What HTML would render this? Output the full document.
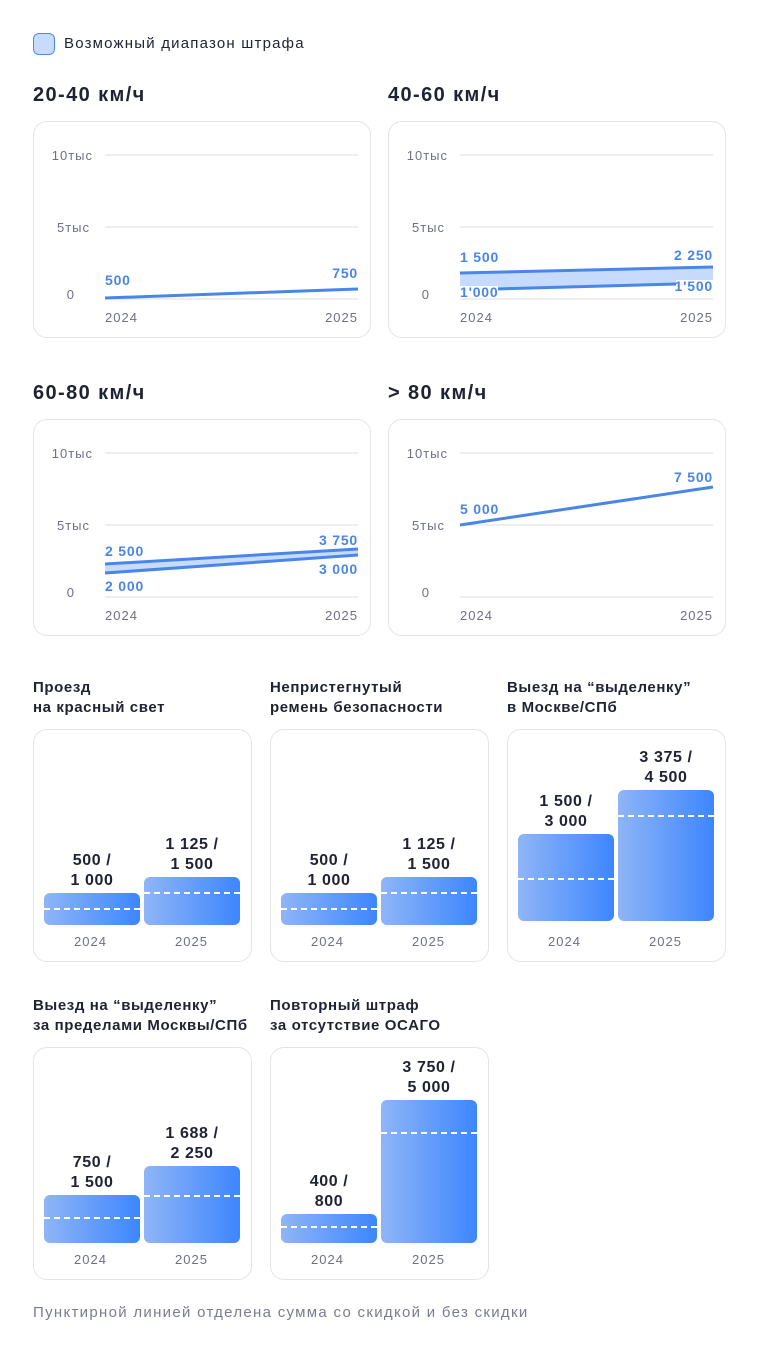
<!DOCTYPE html>
<html><head><meta charset="utf-8"><style>
*{margin:0;padding:0;box-sizing:border-box}
body{width:758px;height:1355px;background:#fff;font-family:"Liberation Sans",sans-serif;color:#1f2233;position:relative;overflow:hidden}
.a{position:absolute}
.card{position:absolute;border:1px solid #e3e4ea;border-radius:14px;background:#fff}
.h{position:absolute;font-size:20px;font-weight:bold;color:#1f2233;letter-spacing:1.4px}
.t{position:absolute;font-size:15px;font-weight:bold;line-height:20px;color:#1f2233;letter-spacing:0.6px}
.ax{position:absolute;font-size:13px;color:#6e7084;letter-spacing:1px}
.bar{position:absolute;border-radius:6px;background:linear-gradient(90deg,#8fb5f6,#3d86ff)}
.dash{position:absolute;left:0;right:0;height:0;border-top:2px dashed #fff}
.bl{position:absolute;font-size:16px;font-weight:bold;line-height:20px;text-align:center;width:96px;color:#1f2233;letter-spacing:0.6px}
</style></head><body>
<div class="a" style="left:33px;top:33px;width:22px;height:22px;border-radius:6px;background:#c7dbff;border:1px solid #4d8af0"></div>
<div class="a" style="left:64px;top:35px;font-size:15px;letter-spacing:1.2px">Возможный диапазон штрафа</div>

<div class="h" style="left:33px;top:84px">20-40 км/ч</div>
<div class="h" style="left:388px;top:84px">40-60 км/ч</div>
<div class="h" style="left:33px;top:382px">60-80 км/ч</div>
<div class="h" style="left:388px;top:382px">&gt; 80 км/ч</div>

<div class="card" style="left:33px;top:121px;width:338px;height:217px"></div>
<div class="card" style="left:388px;top:121px;width:338px;height:217px"></div>
<div class="card" style="left:33px;top:419px;width:338px;height:217px"></div>
<div class="card" style="left:388px;top:419px;width:338px;height:217px"></div>

<svg class="a" style="left:0;top:0" width="758" height="660" font-family="Liberation Sans, sans-serif">
<g id="g1" letter-spacing="1">
<line x1="105" y1="155" x2="358" y2="155" stroke="#dcdde3"/>
<line x1="105" y1="227" x2="358" y2="227" stroke="#dcdde3"/>
<line x1="105" y1="299" x2="358" y2="299" stroke="#dcdde3"/>
<text x="93" y="160" text-anchor="end" font-size="13" fill="#6e7084">10тыс</text>
<text x="90" y="232" text-anchor="end" font-size="13" fill="#6e7084">5тыс</text>
<text x="75" y="299" text-anchor="end" font-size="13" fill="#6e7084">0</text>
<text x="105" y="322" font-size="13" fill="#6e7084">2024</text>
<text x="358" y="322" text-anchor="end" font-size="13" fill="#6e7084">2025</text>
</g>
<use href="#g1" x="355" y="0"/>
<use href="#g1" x="0" y="298"/>
<use href="#g1" x="355" y="298"/>
<g font-size="14" font-weight="bold" fill="#4a86e8" letter-spacing="0.8">
<line x1="105" y1="298" x2="358" y2="289" stroke="#4a86e8" stroke-width="3"/>
<text x="105" y="285">500</text><text x="358" y="278" text-anchor="end">750</text>

<polygon points="460,273 713,267 713,283 460,290" fill="#c7dbff"/>
<line x1="460" y1="273" x2="713" y2="267" stroke="#4a86e8" stroke-width="3"/>
<line x1="460" y1="290" x2="713" y2="283" stroke="#4a86e8" stroke-width="3"/>
<text x="460" y="262">1 500</text><text x="713" y="260" text-anchor="end">2 250</text>
<rect x="460" y="286" width="38" height="12" fill="#fff"/>
<rect x="676" y="280" width="38" height="12" fill="#fff"/>
<text x="460" y="297">1'000</text><text x="713" y="291" text-anchor="end">1'500</text>

<polygon points="105,563 358,549 358,554 105,573" fill="#c7dbff"/>
<line x1="105" y1="564" x2="358" y2="549" stroke="#4a86e8" stroke-width="3"/>
<line x1="105" y1="573" x2="358" y2="555" stroke="#4a86e8" stroke-width="3"/>
<text x="105" y="556">2 500</text><text x="358" y="545" text-anchor="end">3 750</text>
<text x="105" y="591">2 000</text><text x="358" y="574" text-anchor="end">3 000</text>

<line x1="460" y1="525" x2="713" y2="487" stroke="#4a86e8" stroke-width="3"/>
<text x="460" y="514">5 000</text><text x="713" y="482" text-anchor="end">7 500</text>
</g>
</svg>

<div class="t" style="left:33px;top:678px">Проезд<br>на красный свет</div>
<div class="t" style="left:270px;top:678px">Непристегнутый<br>ремень безопасности</div>
<div class="t" style="left:507px;top:678px">Выезд на “выделенку”<br>в Москве/СПб</div>
<div class="t" style="left:33px;top:996px">Выезд на “выделенку”<br>за пределами Москвы/СПб</div>
<div class="t" style="left:270px;top:996px">Повторный штраф<br>за отсутствие ОСАГО</div>

<div class="card" style="left:33px;top:729px;width:219px;height:233px"></div>
<div class="card" style="left:270px;top:729px;width:219px;height:233px"></div>
<div class="card" style="left:507px;top:729px;width:219px;height:233px"></div>
<div class="card" style="left:33px;top:1047px;width:219px;height:233px"></div>
<div class="card" style="left:270px;top:1047px;width:219px;height:233px"></div>

<div class="bar" style="left:44px;top:893px;width:96px;height:32px"><div class="dash" style="top:15px"></div></div>
<div class="bl" style="left:44px;top:851px">500 /<br>1 000</div>
<div class="bar" style="left:144px;top:877px;width:96px;height:48px"><div class="dash" style="top:15px"></div></div>
<div class="bl" style="left:144px;top:835px">1 125 /<br>1 500</div>
<div class="ax" style="left:74px;top:934px">2024</div><div class="ax" style="left:175px;top:934px">2025</div>

<div class="bar" style="left:281px;top:893px;width:96px;height:32px"><div class="dash" style="top:15px"></div></div>
<div class="bl" style="left:281px;top:851px">500 /<br>1 000</div>
<div class="bar" style="left:381px;top:877px;width:96px;height:48px"><div class="dash" style="top:15px"></div></div>
<div class="bl" style="left:381px;top:835px">1 125 /<br>1 500</div>
<div class="ax" style="left:311px;top:934px">2024</div><div class="ax" style="left:412px;top:934px">2025</div>

<div class="bar" style="left:518px;top:834px;width:96px;height:87px"><div class="dash" style="top:44px"></div></div>
<div class="bl" style="left:518px;top:792px">1 500 /<br>3 000</div>
<div class="bar" style="left:618px;top:790px;width:96px;height:131px"><div class="dash" style="top:25px"></div></div>
<div class="bl" style="left:618px;top:748px">3 375 /<br>4 500</div>
<div class="ax" style="left:548px;top:934px">2024</div><div class="ax" style="left:649px;top:934px">2025</div>

<div class="bar" style="left:44px;top:1195px;width:96px;height:48px"><div class="dash" style="top:22px"></div></div>
<div class="bl" style="left:44px;top:1153px">750 /<br>1 500</div>
<div class="bar" style="left:144px;top:1166px;width:96px;height:77px"><div class="dash" style="top:29px"></div></div>
<div class="bl" style="left:144px;top:1124px">1 688 /<br>2 250</div>
<div class="ax" style="left:74px;top:1252px">2024</div><div class="ax" style="left:175px;top:1252px">2025</div>

<div class="bar" style="left:281px;top:1214px;width:96px;height:29px"><div class="dash" style="top:12px"></div></div>
<div class="bl" style="left:281px;top:1172px">400 /<br>800</div>
<div class="bar" style="left:381px;top:1100px;width:96px;height:143px"><div class="dash" style="top:32px"></div></div>
<div class="bl" style="left:381px;top:1058px">3 750 /<br>5 000</div>
<div class="ax" style="left:311px;top:1252px">2024</div><div class="ax" style="left:412px;top:1252px">2025</div>

<div class="a" style="left:33px;top:1304px;font-size:15px;color:#7a7c8f;letter-spacing:1.3px">Пунктирной линией отделена сумма со скидкой и без скидки</div>
</body></html>
